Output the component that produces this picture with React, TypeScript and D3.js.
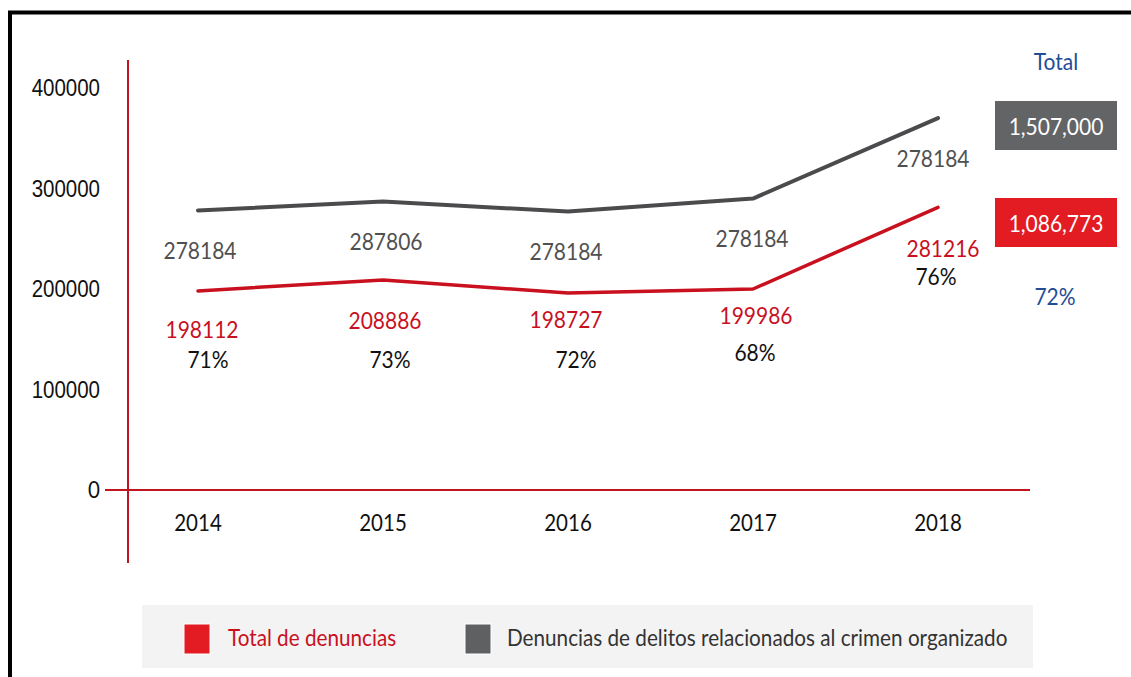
import React from "react";
import * as d3 from "d3";

const years = ["2014", "2015", "2016", "2017", "2018"];
// Line values as drawn
const crimenOrganizado = [278184, 287000, 277000, 290000, 370000];
const totalDenuncias = [198112, 208886, 196000, 199986, 281216];
// Printed labels
const grayLabels = ["278184", "287806", "278184", "278184", "278184"];
const redLabels = ["198112", "208886", "198727", "199986", "281216"];
const pctLabels = ["71%", "73%", "72%", "68%", "76%"];
const yTicks = [0, 100000, 200000, 300000, 400000];
const totalGray = "1,507,000";
const totalRed = "1,086,773";
const totalPct = "72%";
const legendItems = ["Total de denuncias", "Denuncias de delitos relacionados al crimen organizado"];

// layout tweaks for label placement (pixels)
const redLabelDy = [39, 40, 26, 26, 41];
const pctDy = [30, 39, 40, 37, 28];
const redLabelDx = [4, 2, -2, 3, 5];
const pctDx = [10, 7, 8, 2, -2];
const grayLabelDx = [2, 3, -2, -1, -5];

const W = 1131;
const H = 677;
const RED = "#c8101e";
const AXIS_RED = "#c0141e";
const GRAY = "#4b4b4d";
const BLUE = "#1f4e96";
const FONT = "Lato, 'Open Sans', sans-serif";
const STRETCH = 1.13;

type TProps = {
  x: number;
  y: number;
  size: number;
  fill: string;
  anchor?: "start" | "middle" | "end";
  family?: string;
  children: React.ReactNode;
};

function T({ x, y, size, fill, anchor = "middle", family, children }: TProps) {
  return (
    <text
      transform={`translate(${x},${y}) scale(1,${STRETCH})`}
      dy="0.36em"
      textAnchor={anchor}
      fontSize={size}
      fill={fill}
      fontFamily={family || FONT}
    >
      {children}
    </text>
  );
}

export default function App() {
  const x = d3.scalePoint<string>().domain(years).range([198, 938]);
  const y = d3.scaleLinear().domain([0, 400000]).range([490, 88]);
  const line = d3
    .line<number>()
    .x((_, i) => x(years[i]) as number)
    .y((d) => y(d))
    .curve(d3.curveLinear);

  return (
    <svg
      width={W}
      height={H}
      style={{ position: "absolute", left: 0, top: 0, background: "#fff" }}
      fontFamily={FONT}
    >
      {/* frame */}
      <path d={`M10,${H} L10,12.5 L${W},12.5`} fill="none" stroke="#000" strokeWidth={4} />

      {/* axes */}
      <line x1={128} x2={128} y1={60} y2={563} stroke={AXIS_RED} strokeWidth={2} />
      <line x1={105} x2={1030} y1={y(0)} y2={y(0)} stroke={AXIS_RED} strokeWidth={2} />

      {yTicks.map((t) => (
        <T
          key={t}
          x={100}
          y={y(t)}
          anchor="end"
          size={20.5}
          fill="#111"
          family={t === 0 ? FONT : "'Liberation Sans', Arial, sans-serif"}
        >
          {t}
        </T>
      ))}

      {years.map((yr) => (
        <T key={yr} x={x(yr) as number} y={523} size={20.5} fill="#111">
          {yr}
        </T>
      ))}

      {/* lines */}
      <path d={line(crimenOrganizado) || ""} fill="none" stroke={GRAY} strokeWidth={4} strokeLinecap="round" strokeLinejoin="round" />
      <path d={line(totalDenuncias) || ""} fill="none" stroke={RED} strokeWidth={3.5} strokeLinecap="round" strokeLinejoin="round" />

      {/* value labels */}
      {years.map((yr, i) => {
        const cx = x(yr) as number;
        const gy = y(crimenOrganizado[i]) + 40;
        const ry = y(totalDenuncias[i]) + redLabelDy[i];
        const py = ry + pctDy[i];
        return (
          <g key={yr}>
            <T x={cx + grayLabelDx[i]} y={gy} size={21} fill="#505050">
              {grayLabels[i]}
            </T>
            <T x={cx + redLabelDx[i]} y={ry} size={21} fill={RED}>
              {redLabels[i]}
            </T>
            <T x={cx + pctDx[i]} y={py} size={21} fill="#111">
              {pctLabels[i]}
            </T>
          </g>
        );
      })}

      {/* totals */}
      <T x={1056} y={61} size={21} fill={BLUE}>
        Total
      </T>
      <rect x={995} y={101} width={122} height={49} fill="#636466" />
      <T x={1056} y={126} size={21} fill="#fff">
        {totalGray}
      </T>
      <rect x={995} y={198} width={122} height={49} fill="#e31b23" />
      <T x={1056} y={223} size={21} fill="#fff">
        {totalRed}
      </T>
      <T x={1055} y={296} size={21} fill={BLUE}>
        {totalPct}
      </T>

      {/* legend */}
      <rect x={142} y={605} width={891} height={63} fill="#f3f3f3" />
      <rect x={184} y={624} width={26} height={30} fill="#e31b23" stroke="#fff" strokeWidth={1} />
      <T x={228} y={638} size={20.7} fill={RED} anchor="start">
        {legendItems[0]}
      </T>
      <rect x={465} y={624} width={26} height={30} fill="#5f6062" stroke="#fff" strokeWidth={1} />
      <T x={507} y={638} size={20.7} fill="#333" anchor="start">
        {legendItems[1]}
      </T>
    </svg>
  );
}
